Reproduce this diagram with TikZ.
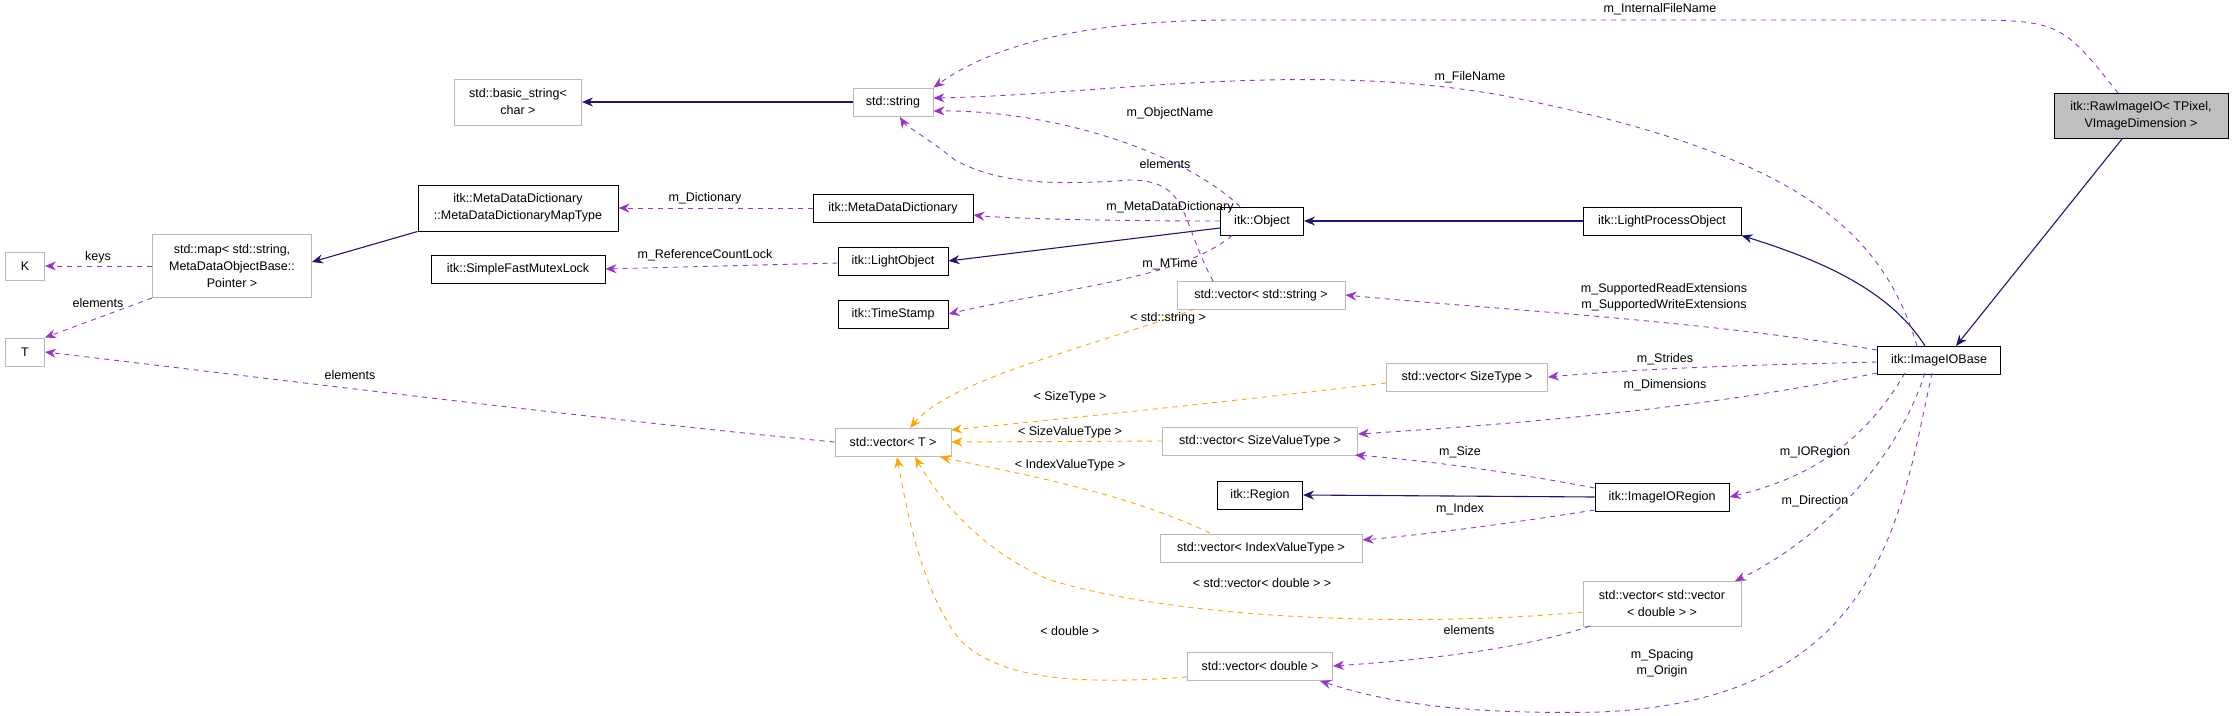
\documentclass[tikz,border=0pt]{standalone}
\usepackage{fontspec}
\setmainfont{Liberation Sans}
\usetikzlibrary{arrows.meta}
\definecolor{pu}{HTML}{9A32CD}
\definecolor{orz}{HTML}{FFA500}
\definecolor{nv}{HTML}{191970}
\begin{document}
\begin{tikzpicture}[x=1pt,y=-1pt,
 box/.style={draw=black,line width=1pt,fill=white,inner sep=2pt,align=center,font=\fontsize{12.5}{17}\selectfont,minimum height=28pt},
 gbox/.style={box,draw=gray!55,line width=0.9pt},
 mem/.style={pu,dashed,dash pattern=on 5pt off 5pt,line width=0.9pt,-{Stealth[length=11pt,width=9pt]}},
 tpl/.style={orz,dashed,dash pattern=on 5pt off 5pt,line width=0.9pt,-{Stealth[length=11pt,width=9pt]}},
 inh/.style={nv,line width=1.1pt,-{Stealth[length=11pt,width=9pt]}},
 lbl/.style={font=\fontsize{12.5}{16}\selectfont,text=black,align=center,inner sep=1pt}]
\useasboundingbox (0,0) rectangle (2235,715);
% nodes
\node[box,fill=gray!50,minimum width=174pt,minimum height=45pt] (raw) at (2141,116) {itk::RawImageIO< TPixel,\\ VImageDimension >};
\node[gbox,minimum width=127pt,minimum height=46pt] (bstr) at (518,102) {std::basic\_string<\\ char >};
\node[gbox,minimum width=80pt] (str) at (893,102) {std::string};
\node[box,minimum width=200pt,minimum height=46pt] (mapt) at (518,208) {itk::MetaDataDictionary\\ ::MetaDataDictionaryMapType};
\node[box,minimum width=160pt] (mdd) at (893,208) {itk::MetaDataDictionary};
\node[gbox,minimum width=159pt,minimum height=63pt] (map) at (232,266) {std::map< std::string,\\ MetaDataObjectBase::\\ Pointer >};
\node[gbox,minimum width=39pt] (K) at (25,266) {K};
\node[gbox,minimum width=39pt] (T) at (25,352) {T};
\node[box,minimum width=174pt] (mutex) at (518,269) {itk::SimpleFastMutexLock};
\node[box,minimum width=110pt] (lobj) at (893,261) {itk::LightObject};
\node[box,minimum width=110pt] (ts) at (893,314) {itk::TimeStamp};
\node[box,minimum width=83pt] (obj) at (1262,221) {itk::Object};
\node[box,minimum width=158pt] (lpo) at (1662,221) {itk::LightProcessObject};
\node[gbox,minimum width=168pt] (vstr) at (1261,295) {std::vector< std::string >};
\node[box,minimum width=123pt] (iob) at (1939,360) {itk::ImageIOBase};
\node[gbox,minimum width=161pt] (vst) at (1467,377) {std::vector< SizeType >};
\node[gbox,minimum width=116pt] (vT) at (893,442) {std::vector< T >};
\node[gbox,minimum width=195pt] (vsvt) at (1260,441) {std::vector< SizeValueType >};
\node[box,minimum width=85pt] (reg) at (1260,495) {itk::Region};
\node[box,minimum width=134pt] (ior) at (1662,497) {itk::ImageIORegion};
\node[gbox,minimum width=202pt] (vivt) at (1261,548) {std::vector< IndexValueType >};
\node[gbox,minimum width=158pt,minimum height=45pt] (vvd) at (1662,604) {std::vector< std::vector\\ < double > >};
\node[gbox,minimum width=145pt] (vd) at (1260,666) {std::vector< double >};
\coordinate (rawb) at (2122,139);
\coordinate (iobt) at (1956,346);
% inheritance
\draw[inh] (str.west) -- (bstr.east);
\draw[inh] (mapt.south west) -- (map.east|-0,262);
\draw[inh] (obj.west|-0,228) -- (lobj.east);
\draw[inh] (lpo.west) -- (obj.east);
\draw[inh] (ior.west) -- (reg.east);
\draw[inh] (rawb) -- (iobt);
\draw[inh] (1925,346) .. controls (1890,290) and (1820,260) .. (lpo.south east);
% members
\draw[mem] (2118,93) .. controls (2060,20) and (2060,20) .. (1950,20) -- (1235,20) .. controls (1100,20) and (1000,40) .. (str.north east);
\node[lbl] at (1660,9) {m\_InternalFileName};
\draw[mem] (1917,346) .. controls (1880,220) and (1780,150) .. (1500,95) .. controls (1300,60) and (1100,95) .. (str.east|-0,98);
\node[lbl] at (1470,77) {m\_FileName};
\draw[mem] (obj.north) ++(-22,0) .. controls (1180,150) and (1050,110) .. (str.east|-0,111);
\node[lbl] at (1170,113) {m\_ObjectName};
\draw[mem] (1213,281) .. controls (1180,220) and (1190,180) .. (1130,180) .. controls (1060,185) and (1000,185) .. (955,160) .. controls (930,140) and (905,125) .. (900,117);
\node[lbl] at (1165,164) {elements};
\draw[mem] (mdd.west) -- (mapt.east);
\node[lbl] at (705,198) {m\_Dictionary};
\draw[mem] (obj.west) .. controls (1100,221) and (1000,218) .. (mdd.east|-0,215);
\node[lbl] at (1170,207) {m\_MetaDataDictionary};
\draw[mem] (map.west) -- (K.east);
\node[lbl] at (98,257) {keys};
\draw[mem] (map.south west) -- (T.north east);
\node[lbl] at (98,303) {elements};
\draw[mem] (lobj.west|-0,263) -- (mutex.east);
\node[lbl] at (705,255) {m\_ReferenceCountLock};
\draw[mem] (obj.south) ++(-30,0) .. controls (1180,280) and (1050,290) .. (ts.east);
\node[lbl] at (1170,264) {m\_MTime};
\draw[mem] (iob.west|-0,350) .. controls (1700,320) and (1500,310) .. (vstr.east);
\node[lbl] at (1664,297) {m\_SupportedReadExtensions\\ m\_SupportedWriteExtensions};
\draw[mem] (iob.west|-0,362) .. controls (1750,365) and (1650,368) .. (vst.east);
\node[lbl] at (1665,359) {m\_Strides};
\draw[mem] (iob.west|-0,373) .. controls (1700,410) and (1500,425) .. (vsvt.east|-0,434);
\node[lbl] at (1665,385) {m\_Dimensions};
\draw[mem] (vT.west) .. controls (600,420) and (200,370) .. (T.east);
\node[lbl] at (350,375) {elements};
\draw[mem] (ior.west|-0,488) .. controls (1500,470) and (1420,460) .. (1355,455);
\node[lbl] at (1460,452) {m\_Size};
\draw[mem] (1905,373) .. controls (1860,450) and (1800,480) .. (ior.east);
\node[lbl] at (1815,452) {m\_IORegion};
\draw[mem] (ior.west|-0,510) .. controls (1500,525) and (1420,535) .. (vivt.east|-0,540);
\node[lbl] at (1460,509) {m\_Index};
\draw[mem] (1925,373) .. controls (1890,480) and (1800,550) .. (1735,581);
\node[lbl] at (1815,501) {m\_Direction};
\draw[mem] (1590,626) .. controls (1520,650) and (1420,660) .. (vd.east);
\node[lbl] at (1469,630) {elements};
\draw[mem] (1932,373) .. controls (1900,520) and (1880,700) .. (1600,712) .. controls (1450,715) and (1380,700) .. (1320,681);
\node[lbl] at (1662,663) {m\_Spacing\\ m\_Origin};
% templates
\draw[tpl] (1195,309) .. controls (1080,350) and (950,380) .. (910,428);
\node[lbl] at (1168,318) {< std::string >};
\draw[tpl] (vst.west|-0,383) .. controls (1200,405) and (1050,420) .. (951,430);
\node[lbl] at (1070,397) {< SizeType >};
\draw[tpl] (vsvt.west) -- (vT.east);
\node[lbl] at (1070,432) {< SizeValueType >};
\draw[tpl] (1210,533) .. controls (1120,490) and (1000,470) .. (940,457);
\node[lbl] at (1070,465) {< IndexValueType >};
\draw[tpl] (vvd.west|-0,612) .. controls (1450,625) and (1200,625) .. (1050,580) .. controls (980,550) and (940,500) .. (915,457);
\node[lbl] at (1262,583) {< std::vector< double > >};
\draw[tpl] (vd.west|-0,677) .. controls (1080,685) and (1000,680) .. (960,640) .. controls (920,590) and (905,500) .. (897,457);
\node[lbl] at (1070,631) {< double >};
\end{tikzpicture}
\end{document}
